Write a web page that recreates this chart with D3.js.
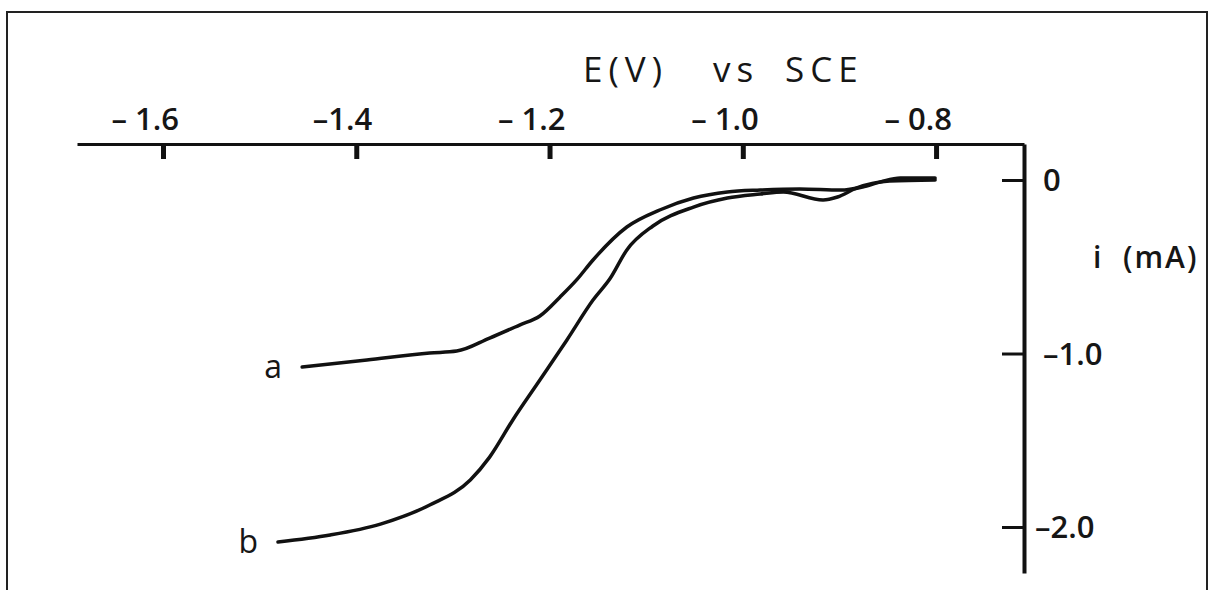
<!DOCTYPE html>
<html>
<head>
<meta charset="utf-8">
<script src="https://cdn.jsdelivr.net/npm/d3@7"></script>
<style>
  html, body { margin: 0; padding: 0; background: #fff; }
  text { font-family: "Open Sans", "Noto Sans", sans-serif; fill: #161616; font-weight: 600; }
</style>
</head>
<body>
<svg id="chart" width="1213" height="590"></svg>
<script>
// potential E (V vs SCE) and current i (mA)
const eA = [-1.456, -1.389, -1.324, -1.296, -1.262, -1.231, -1.210, -1.189, -1.172, -1.155, -1.120,
  -1.086, -1.051, -1.016, -0.982, -0.941, -0.899, -0.876, -0.858, -0.837, -0.801];
const iA = [-1.078, -1.037, -0.997, -0.986, -0.911, -0.836, -0.784, -0.674, -0.576, -0.461, -0.271,
  -0.173, -0.104, -0.069, -0.058, -0.052, -0.058, -0.040, -0.012, 0.012, 0.012];

const eB = [-1.481, -1.427, -1.375, -1.324, -1.282, -1.262, -1.238, -1.210, -1.182, -1.155, -1.137,
  -1.120, -1.093, -1.051, -1.016, -0.982, -0.958, -0.917, -0.902, -0.882, -0.848, -0.801];
const iB = [-2.086, -2.046, -1.983, -1.873, -1.729, -1.597, -1.383, -1.153, -0.922, -0.692, -0.565,
  -0.403, -0.265, -0.156, -0.104, -0.081, -0.069, -0.115, -0.098, -0.046, -0.006, 0.0];

const curveNames = ["a", "b"];

const xTicks = [-1.6, -1.4, -1.2, -1.0, -0.8];
const xTickLabels = ["\u2013 1.6", "\u20131.4", "\u2013 1.2", "\u2013 1.0", "\u2013 0.8"];
const yTicks = [0, -1.0, -2.0];
const yTickLabels = ["0", "\u20131.0", "\u20132.0"];

const svg = d3.select("#chart");

// frame round the whole figure
svg.append("rect")
  .attr("x", 7).attr("y", 12)
  .attr("width", 1200).attr("height", 600)
  .attr("fill", "none").attr("stroke", "#222").attr("stroke-width", 2);

// scales: x axis sits on top, y axis on the right
const x = d3.scaleLinear().domain([-1.689, -0.709]).range([77, 1024]);
const y = d3.scaleLinear().domain([0.2075, -2.265]).range([144, 573]);

const xAxis = d3.axisBottom(x)
  .tickValues(xTicks)
  .tickSize(15)
  .tickSizeOuter(0)
  .tickFormat(() => "");
const gx = svg.append("g")
  .attr("transform", `translate(0,${y.range()[0]})`)
  .call(xAxis);
gx.select(".domain").attr("stroke", "#111").attr("stroke-width", 3);
gx.selectAll(".tick line")
  .attr("y1", 0)
  .attr("y2", 15)
  .attr("stroke", "#111")
  .attr("stroke-width", 5);

const yAxis = d3.axisLeft(y)
  .tickValues(yTicks)
  .tickSize(22)
  .tickSizeOuter(0)
  .tickFormat(() => "");
const gy = svg.append("g")
  .attr("transform", `translate(${x.range()[1]},0)`)
  .call(yAxis);
gy.select(".domain").attr("stroke", "#111").attr("stroke-width", 4);
gy.selectAll(".tick line").attr("stroke", "#111").attr("stroke-width", 3);

// tick labels
svg.append("g").selectAll("text")
  .data(xTicks)
  .join("text")
  .attr("x", (d) => x(d) + 16)
  .attr("y", 130)
  .attr("text-anchor", "end")
  .style("font-size", "31px")
  .attr("xml:space", "preserve")
  .text((d, i) => xTickLabels[i]);

svg.append("g").selectAll("text")
  .data(yTicks)
  .join("text")
  .attr("x", (d, i) => x.range()[1] + (i === 2 ? 11 : 19))
  .attr("y", (d) => y(d) + 11)
  .style("font-size", "31px")
  .text((d, i) => yTickLabels[i]);

// axis titles
const titleParts = [["E(V)", 583], ["vs", 713], ["SCE", 785]];
svg.append("g").selectAll("text")
  .data(titleParts)
  .join("text")
  .attr("x", (d) => d[1])
  .attr("y", 82)
  .style("font-size", "35px")
  .style("font-weight", 500)
  .style("letter-spacing", "6px")
  .text((d) => d[0]);

svg.append("text")
  .attr("x", 1093)
  .attr("y", 268)
  .attr("xml:space", "preserve")
  .style("font-size", "30px")
  .style("letter-spacing", "2px")
  .text("i  (mA)");

// curves
const line = d3.line()
  .x((d) => x(d[0]))
  .y((d) => y(d[1]))
  .curve(d3.curveMonotoneX);

const series = [d3.zip(eA, iA), d3.zip(eB, iB)];

svg.append("g").selectAll("path")
  .data(series)
  .join("path")
  .attr("d", line)
  .attr("fill", "none")
  .attr("stroke", "#111")
  .attr("stroke-width", 3.5)
  .attr("stroke-linecap", "round");

// curve names at the left end of each curve
svg.append("g").selectAll("text")
  .data(series)
  .join("text")
  .attr("x", (d) => x(d[0][0]) - 20)
  .attr("y", (d) => y(d[0][1]) + 11)
  .attr("text-anchor", "end")
  .style("font-size", "32px")
  .style("font-weight", 500)
  .text((d, i) => curveNames[i]);
</script>
</body>
</html>
